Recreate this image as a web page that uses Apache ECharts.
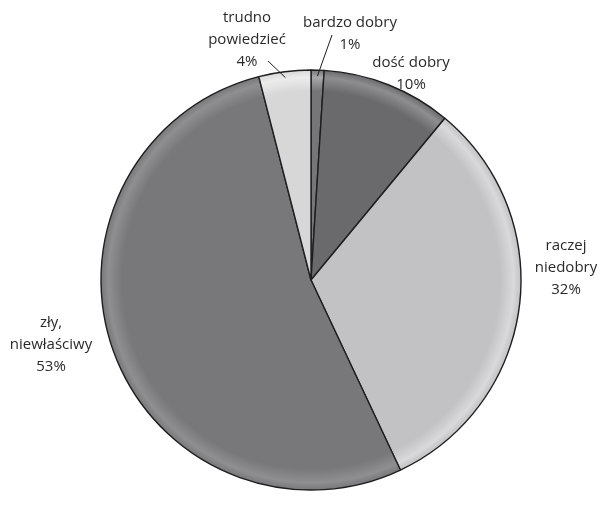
<!DOCTYPE html>
<html>
<head>
<meta charset="utf-8">
<script src="https://cdn.jsdelivr.net/npm/echarts@6/dist/echarts.min.js"></script>
<style>
  html, body { margin: 0; padding: 0; background: #fff; }
  #chart { width: 601px; height: 505px; }
</style>
</head>
<body>
<div id="chart"></div>
<script>
// Ratings of the situation, share of answers in percent
const categories = ['bardzo dobry', 'dość dobry', 'raczej\nniedobry', 'zły,\nniewłaściwy', 'trudno\npowiedzieć'];
const shares = [1, 10, 32, 53, 4];
const sliceColors = ['#767678', '#6a6a6c', '#c2c2c4', '#78787b', '#d7d7d7'];
const rimColors = ['#a9a9ab', '#8e8e90', '#d9d9db', '#8f8f92', '#ececec'];

// Pie geometry (pixels)
const CX = 311, CY = 280, R = 210;

// Label block centres for each slice
const labelSpots = [
  { x: 350, y: 34 },
  { x: 411, y: 74 },
  { x: 566, y: 268 },
  { x: 51, y: 345 },
  { x: 247, y: 40 }
];
// Where a leader line leaves its label (null = no leader line)
const leaderStarts = [[332, 35], null, null, null, [268, 61]];

const total = shares.reduce((a, b) => a + b, 0);

// Point on the middle ray of slice i, at distance rr from the centre
function sliceAnchor(i, rr) {
  let before = 0;
  for (let k = 0; k < i; k++) before += shares[k];
  const mid = (before + shares[i] / 2) / total * 2 * Math.PI;
  return [CX + rr * Math.sin(mid), CY - rr * Math.cos(mid)];
}

function sliceFill(i) {
  return {
    type: 'radial', x: CX, y: CY, r: R, global: true,
    colorStops: [
      { offset: 0, color: sliceColors[i] },
      { offset: 0.9, color: sliceColors[i] },
      { offset: 0.965, color: rimColors[i] },
      { offset: 1, color: sliceColors[i] }
    ]
  };
}

// Leader lines drawn above the slices, from label to the slice's middle ray
const leaderLines = [];
leaderStarts.forEach((st, i) => {
  if (!st) return;
  const end = sliceAnchor(i, R - 6);
  leaderLines.push({
    type: 'line',
    z: 100,
    silent: true,
    shape: { x1: st[0], y1: st[1], x2: end[0], y2: end[1] },
    style: { stroke: '#1e1e1e', lineWidth: 1 }
  });
});

const chart = echarts.init(document.getElementById('chart'), null, { renderer: 'canvas' });

chart.setOption({
  animation: false,
  backgroundColor: '#ffffff',
  graphic: leaderLines,
  series: [{
    type: 'pie',
    center: [CX, CY],
    radius: [0, R],
    startAngle: 90,
    clockwise: true,
    avoidLabelOverlap: false,
    itemStyle: { borderColor: '#1e1e1e', borderWidth: 1.4 },
    label: {
      show: true,
      position: 'outside',
      formatter: p => p.name + '\n' + p.value + '%',
      fontFamily: 'Open Sans',
      fontSize: 15,
      lineHeight: 22,
      color: '#2a2a2a',
      align: 'center'
    },
    labelLine: { show: false },
    labelLayout: function (params) {
      const s = labelSpots[params.dataIndex];
      return { x: s.x, y: s.y, align: 'center', verticalAlign: 'middle' };
    },
    data: categories.map((name, i) => ({
      name: name,
      value: shares[i],
      itemStyle: { color: sliceFill(i) }
    }))
  }]
});
</script>
</body>
</html>
